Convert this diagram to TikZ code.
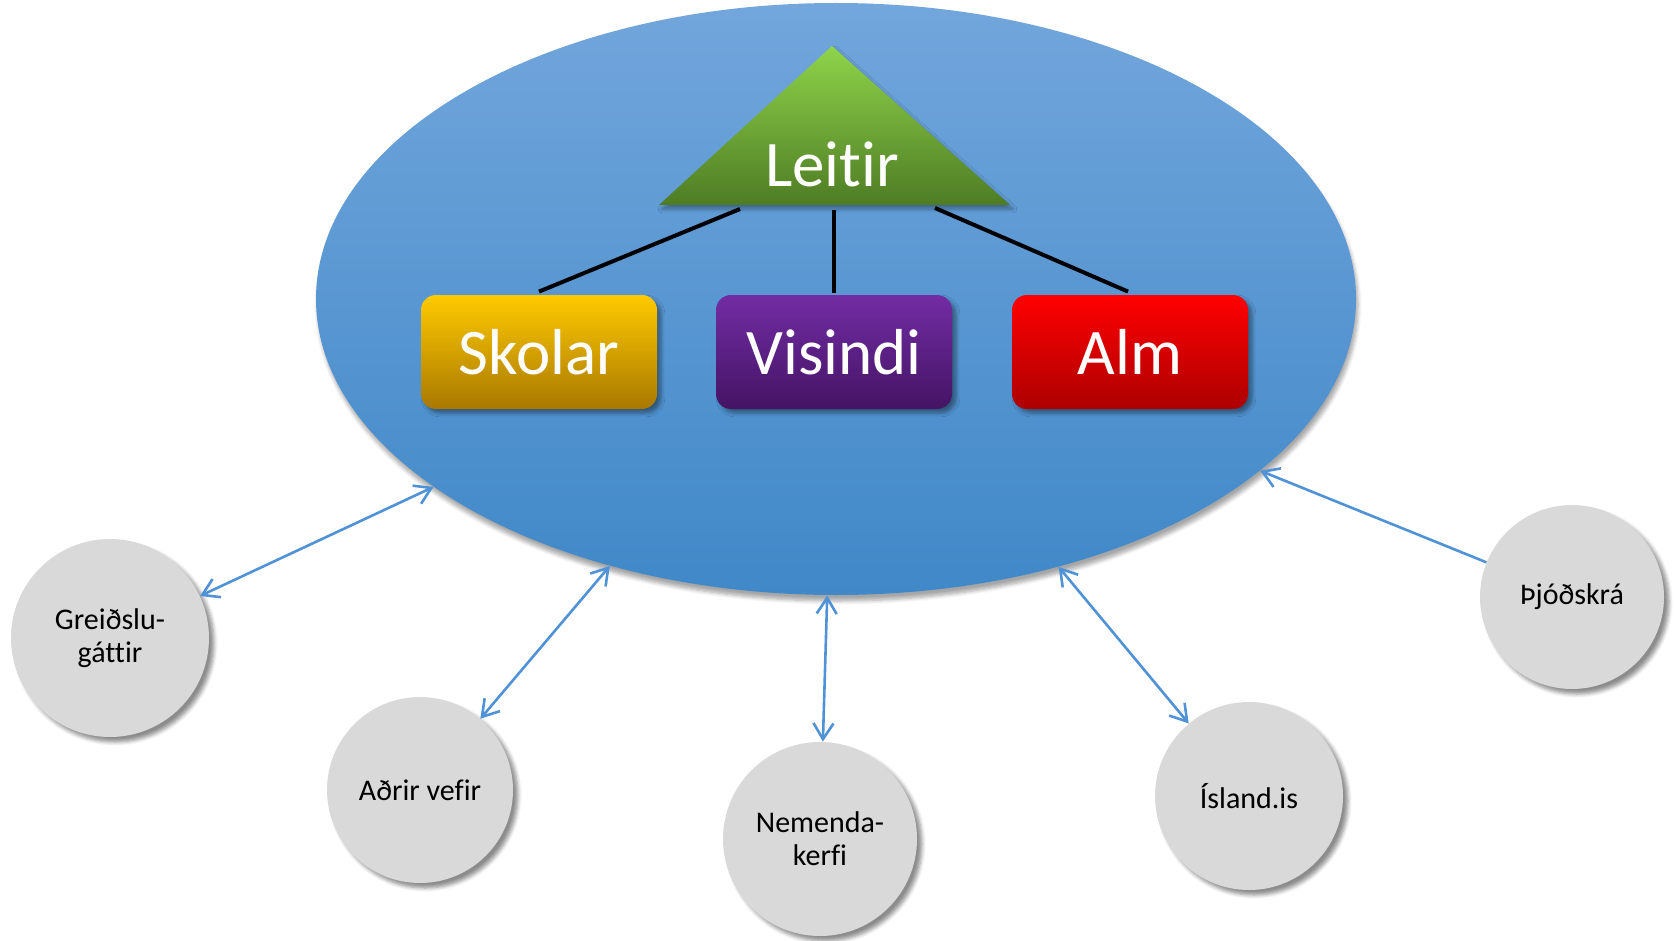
\documentclass[tikz,border=0pt]{standalone}
\usepackage{fontspec}
\setmainfont{Carlito}[Ligatures=NoCommon]
\usetikzlibrary{shapes.geometric,arrows.meta,shadows.blur}
\definecolor{elltop}{RGB}{114,166,220}
\definecolor{ellbot}{RGB}{64,136,200}
\definecolor{tritop}{RGB}{143,212,74}
\definecolor{tribot}{RGB}{78,124,36}
\definecolor{skotop}{RGB}{255,202,0}
\definecolor{skobot}{RGB}{168,120,0}
\definecolor{vistop}{RGB}{114,44,164}
\definecolor{visbot}{RGB}{68,20,100}
\definecolor{almtop}{RGB}{255,0,0}
\definecolor{almbot}{RGB}{172,0,0}
\definecolor{arrblue}{RGB}{80,146,214}
\definecolor{circgray}{RGB}{217,217,217}
\tikzset{
  ellstyle/.style={ellipse, draw=none, minimum width=520pt, minimum height=296pt, inner sep=0pt,
    top color=elltop, bottom color=ellbot,
    blur shadow={shadow xshift=1pt, shadow yshift=-3pt, shadow opacity=35, shadow blur steps=6}},
  boxstyle/.style={rounded corners=7.5pt, minimum width=118pt, minimum height=57pt, inner sep=0pt,
    text=white, font=\fontsize{32.5}{39}\selectfont,
    blur shadow={shadow xshift=2pt, shadow yshift=-2pt, shadow opacity=40, shadow blur steps=5}},
  cnode/.style={circle, fill=circgray, inner sep=0pt, align=center,
    font=\fontsize{15}{16.5}\selectfont,
    blur shadow={shadow xshift=2.5pt, shadow yshift=-2.5pt, shadow opacity=45, shadow blur steps=5}},
  link/.style={black, line width=2pt},
  arr/.style={arrblue, line width=1.3pt, arrows={Straight Barb[length=8pt,width=10pt]-Straight Barb[length=8pt,width=10pt]}},
  arrone/.style={arrblue, line width=1.3pt, arrows={-Straight Barb[length=8pt,width=10pt]}}
}
\begin{document}
\begin{tikzpicture}[x=0.5pt,y=-0.5pt]
\useasboundingbox (0,0) rectangle (1675,941);
\node[ellstyle] (ell) at (836,299) {};
% triangle
\path[top color=tritop, bottom color=tribot,
  blur shadow={shadow xshift=1.5pt, shadow yshift=-2pt, shadow opacity=35, shadow blur steps=5}]
  (832,46) -- (1010,205) -- (659,205) -- cycle;
\node[text=white, font=\fontsize{32.5}{39}\selectfont, anchor=base, inner sep=0pt] (leitir) at (832,187) {Leitir};
\coordinate (t1) at (740,209);
\coordinate (t2) at (834,210);
\coordinate (t3) at (935,208);
% boxes
\node[boxstyle, top color=skotop, bottom color=skobot] (skolar) at (539,352) {Skolar};
\node[boxstyle, top color=vistop, bottom color=visbot] (visindi) at (834,352) {Visindi};
\node[boxstyle, top color=almtop, bottom color=almbot] (alm) at (1130,352) {Alm};
\draw[link] (t1) -- ([yshift=1.5pt]skolar.north);
\draw[link] (t2) -- ([yshift=1pt]visindi.north);
\draw[link] (t3) -- ([xshift=-1pt,yshift=1.5pt]alm.north);
% circles
\node[cnode, minimum size=99pt] (greid) at (110,638) {Greiðslu-\\gáttir};
\node[cnode, minimum size=93pt] (adrir) at (420,790) {Aðrir vefir};
\node[cnode, minimum size=97pt] (nem) at (820,839) {Nemenda-\\kerfi};
\node[cnode, minimum size=94pt] (island) at (1249,796) {Ísland.is};
\node[cnode, minimum size=92pt] (thjod) at (1572,597) {Þjóðskrá};
% arrows
\draw[arr] (greid) -- (ell);
\draw[arr] (adrir) -- (ell);
\draw[arr] (nem) -- (ell);
\draw[arr] (island) -- (ell);
\draw[arrone] (thjod) -- (ell);
\end{tikzpicture}
\end{document}
